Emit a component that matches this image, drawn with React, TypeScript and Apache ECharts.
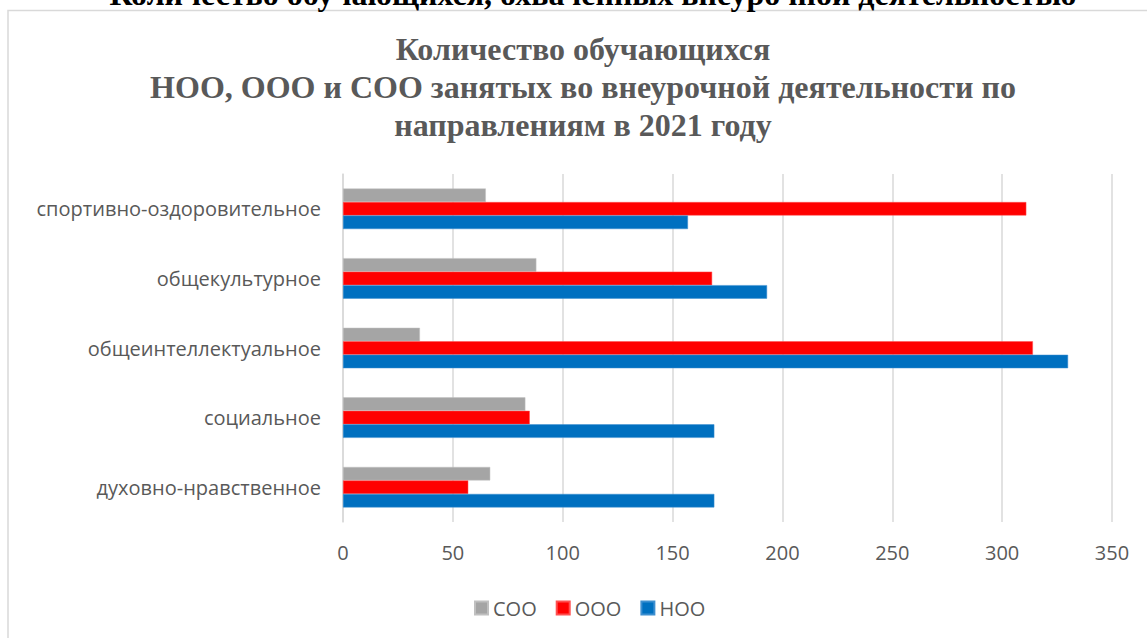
import React, { useEffect, useRef } from "react";
import * as echarts from "echarts";

const categories = [
  "духовно-нравственное",
  "социальное",
  "общеинтеллектуальное",
  "общекультурное",
  "спортивно-оздоровительное",
];
const nooValues = [169, 169, 330, 193, 157];
const oooValues = [57, 85, 314, 168, 311];
const sooValues = [67, 83, 35, 88, 65];
const xTicks = { min: 0, max: 350, interval: 50 };

const TEXT_FONT = "'Open Sans', sans-serif";

export default function App() {
  const ref = useRef<HTMLDivElement>(null);
  useEffect(() => {
    if (!ref.current) return;
    const chart = echarts.init(ref.current, undefined, { renderer: "svg" });
    chart.setOption({
      animation: false,
      backgroundColor: "#ffffff",
      graphic: [
        {
          type: "rect",
          shape: { x: 8, y: 10.5, width: 1300, height: 800 },
          style: { fill: "none", stroke: "#d9d9d9", lineWidth: 1.5 },
          silent: true,
        },
        {
          type: "text",
          x: 593,
          y: 10,
          style: {
            text: "Количество обучающихся, охваченных внеурочной деятельностью",
            fontFamily: "'Liberation Serif', serif",
            fontWeight: "bold",
            fontSize: 32,
            fill: "#000000",
            align: "center",
            verticalAlign: "bottom",
          },
        },
        {
          type: "text",
          x: 583,
          y: 30,
          style: {
            text: "Количество обучающихся\nНОО, ООО и СОО занятых во внеурочной деятельности по\nнаправлениям в 2021 году",
            fontFamily: "'Liberation Serif', serif",
            fontWeight: "bold",
            fontSize: 32,
            lineHeight: 38,
            fill: "#595959",
            align: "center",
            verticalAlign: "top",
          },
        },
      ],
      legend: {
        data: ["СОО", "ООО", "НОО"],
        left: 469,
        top: 593,
        itemWidth: 13,
        itemHeight: 13,
        itemGap: 19,
        icon: "rect",
        textStyle: { fontFamily: TEXT_FONT, fontSize: 20, color: "#595959" },
      },
      grid: { left: 343, right: 35, top: 174, bottom: 116, containLabel: false },
      xAxis: {
        type: "value",
        min: xTicks.min,
        max: xTicks.max,
        interval: xTicks.interval,
        axisLine: { show: false },
        axisTick: { show: false },
        axisLabel: { fontFamily: TEXT_FONT, fontSize: 20, color: "#595959", margin: 20 },
        splitLine: { lineStyle: { color: "#d9d9d9", width: 1.5 } },
      },
      yAxis: {
        type: "category",
        data: categories,
        axisLine: { show: true, lineStyle: { color: "#d9d9d9", width: 1.5 } },
        axisTick: { show: false },
        axisLabel: { fontFamily: TEXT_FONT, fontSize: 20, color: "#595959", margin: 22 },
      },
      series: [
        {
          name: "СОО",
          type: "bar",
          data: sooValues,
          barWidth: 13.5,
          barGap: "0%",
          itemStyle: { color: "#a5a5a5", borderColor: "#c0c0c0", borderWidth: 0.5 },
        },
        {
          name: "ООО",
          type: "bar",
          data: oooValues,
          barWidth: 13.5,
          barGap: "0%",
          itemStyle: { color: "#ff0000", borderColor: "#ff5050", borderWidth: 0.5 },
        },
        {
          name: "НОО",
          type: "bar",
          data: nooValues,
          barWidth: 13.5,
          barGap: "0%",
          itemStyle: { color: "#0070c0", borderColor: "#3d8fd0", borderWidth: 0.5 },
        },
      ],
    });
    return () => chart.dispose();
  }, []);
  return (
    <div
      ref={ref}
      style={{ position: "absolute", left: 0, top: 0, width: 1147, height: 638 }}
    />
  );
}
